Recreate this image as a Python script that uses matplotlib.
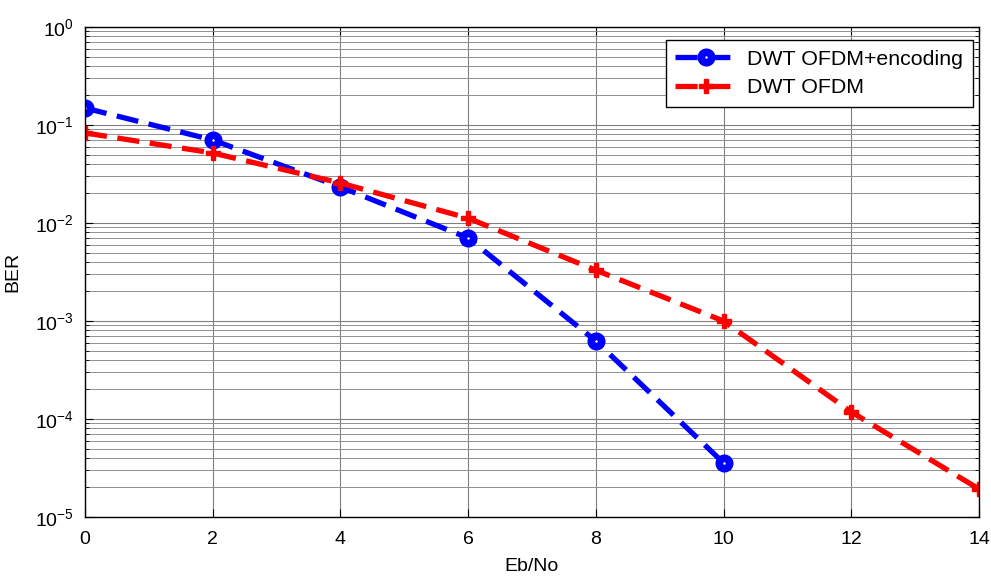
import numpy as np
import matplotlib.pyplot as plt
from matplotlib.ticker import LogLocator, NullFormatter

# Eb/No points and measured bit error rates
ebno_enc = [0, 2, 4, 6, 8, 10]
ber_enc = [0.149, 0.0703, 0.0233, 0.00703, 6.25e-4, 3.56e-5]

ebno_plain = [0, 2, 4, 6, 8, 10, 12, 14]
ber_plain = [0.083, 0.0518, 0.0256, 0.0112, 3.3e-3, 1.0e-3, 1.18e-4, 1.93e-5]

plt.rcParams['font.family'] = ['Liberation Sans', 'DejaVu Sans']
plt.rcParams['axes.unicode_minus'] = False
plt.rcParams['mathtext.fontset'] = 'custom'
plt.rcParams['mathtext.rm'] = 'Liberation Sans'
plt.rcParams['mathtext.it'] = 'Liberation Sans'
plt.rcParams['mathtext.default'] = 'rm'

fig = plt.figure(figsize=(9.91, 5.77), dpi=100)
ax = fig.add_axes([85 / 991, 1 - 517 / 577, (979 - 85) / 991, (517 - 27) / 577])

ax.semilogy(ebno_enc, ber_enc, color='#0000ff', lw=3.8, marker='o',
            ms=7.5, mfc='white', mec='#0000ff', mew=5.5, dashes=(4.2, 2.0),
            label='DWT OFDM+encoding')
ax.semilogy(ebno_plain, ber_plain, color='#ff0000', lw=3.8, marker='P',
            ms=10, mfc='#ff0000', mec='#ff0000', mew=1, dashes=(4.2, 2.0),
            label='DWT OFDM')

ax.set_xlim(0, 14)
ax.set_ylim(1e-5, 1)
ax.set_xticks(range(0, 15, 2))
ax.yaxis.set_major_locator(LogLocator(base=10, numticks=10))
ax.yaxis.set_minor_locator(LogLocator(base=10, subs=np.arange(2, 10), numticks=10))
ax.yaxis.set_minor_formatter(NullFormatter())

ax.grid(True, which='major', color='#808080', lw=0.8)
ax.grid(True, which='minor', axis='y', color='#909090', lw=0.7)
ax.set_axisbelow(True)

ax.tick_params(which='both', direction='in', labelsize=14, top=True, right=True)
ax.tick_params(which='major', length=6)
ax.tick_params(axis='x', which='major', pad=10)
ax.tick_params(axis='y', which='major', pad=8)
ax.tick_params(which='minor', length=3)
for s in ax.spines.values():
    s.set_linewidth(1.0)

ax.set_xlabel('Eb/No', fontsize=14, labelpad=7)
ax.set_ylabel('BER', fontsize=14, labelpad=10)

leg = ax.legend(loc='upper right', fontsize=15.4, fancybox=False, framealpha=1,
                edgecolor='black', handlelength=2.9, handletextpad=0.45,
                borderpad=0.45, labelspacing=0.45, borderaxespad=0,
                bbox_to_anchor=(0.993, 0.9735))
leg.get_frame().set_linewidth(1.0)

fig.savefig('out.png', dpi=100)
